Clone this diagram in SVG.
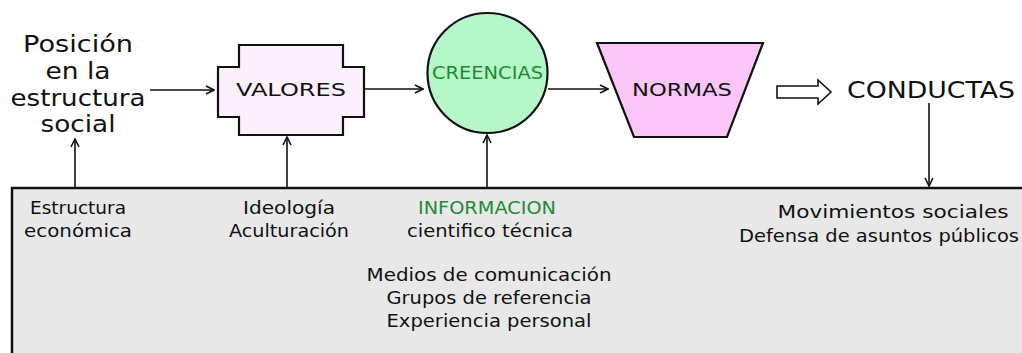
<svg xmlns="http://www.w3.org/2000/svg" width="1022" height="353" viewBox="0 0 1022 353">
<defs>
<marker id="ah" markerWidth="10" markerHeight="10" refX="9" refY="5" orient="auto" markerUnits="userSpaceOnUse">
<path d="M1,1 L9,5 L1,9" fill="none" stroke="#111" stroke-width="1.6"/>
</marker>
</defs>
<style>
text{font-family:"DejaVu Sans","Liberation Sans",sans-serif;fill:#111;text-anchor:middle}
.big{font-size:23px}
.node{font-size:18px}
.small{font-size:17px}
.green{fill:#1f8a34}
.shape{stroke:#111;stroke-width:2.2}
.conn{stroke:#111;stroke-width:1.6;fill:none;marker-end:url(#ah)}
</style>
<g id="panel">
<rect x="12" y="188" width="1030" height="200" fill="#e8e8e8" stroke="#111" stroke-width="2.5"/>
</g>
<g id="posicion">
<text class="big" x="78" y="52" textLength="110" lengthAdjust="spacingAndGlyphs">Posición</text>
<text class="big" x="78" y="79" textLength="65" lengthAdjust="spacingAndGlyphs">en la</text>
<text class="big" x="78" y="106" textLength="135" lengthAdjust="spacingAndGlyphs">estructura</text>
<text class="big" x="78" y="132" textLength="75" lengthAdjust="spacingAndGlyphs">social</text>
</g>
<g id="valores">
<path class="shape" fill="#fcf0fa" d="M239,45 H343 V67 H364 V117 H343 V135 H239 V117 H218 V67 H239 Z"/>
<text class="node" x="291" y="96" textLength="110" lengthAdjust="spacingAndGlyphs">VALORES</text>
</g>
<g id="creencias">
<circle class="shape" cx="487.5" cy="73" r="60" fill="#b5f7c8"/>
<text class="node green" x="487.5" y="79" textLength="111" lengthAdjust="spacingAndGlyphs">CREENCIAS</text>
</g>
<g id="normas">
<path class="shape" fill="#f9c6f7" d="M597,43 H763 L727,137 H634 Z"/>
<text class="node" x="682" y="96" textLength="100" lengthAdjust="spacingAndGlyphs">NORMAS</text>
</g>
<g id="conductas">
<text class="big" x="931" y="98" textLength="168" lengthAdjust="spacingAndGlyphs">CONDUCTAS</text>
</g>
<g id="estructura-economica">
<text class="small" x="78" y="214" textLength="96" lengthAdjust="spacingAndGlyphs">Estructura</text>
<text class="small" x="78" y="237" textLength="108" lengthAdjust="spacingAndGlyphs">económica</text>
</g>
<g id="ideologia">
<text class="small" x="289" y="214" textLength="92" lengthAdjust="spacingAndGlyphs">Ideología</text>
<text class="small" x="289" y="237" textLength="120" lengthAdjust="spacingAndGlyphs">Aculturación</text>
</g>
<g id="informacion">
<text class="small green" x="487" y="214" textLength="138" lengthAdjust="spacingAndGlyphs">INFORMACION</text>
<text class="small" x="490" y="237" textLength="166" lengthAdjust="spacingAndGlyphs">cientifico técnica</text>
<text class="small" x="489" y="281" textLength="245" lengthAdjust="spacingAndGlyphs">Medios de comunicación</text>
<text class="small" x="489" y="304" textLength="205" lengthAdjust="spacingAndGlyphs">Grupos de referencia</text>
<text class="small" x="489" y="327" textLength="205" lengthAdjust="spacingAndGlyphs">Experiencia personal</text>
</g>
<g id="movimientos">
<text class="small" x="893" y="218" textLength="231" lengthAdjust="spacingAndGlyphs">Movimientos sociales</text>
<text class="small" x="879" y="242" textLength="280" lengthAdjust="spacingAndGlyphs">Defensa de asuntos públicos</text>
</g>
<g id="connectors">
<line class="conn" x1="150" y1="90" x2="214" y2="90"/>
<line class="conn" x1="75" y1="188" x2="75" y2="139"/>
<line class="conn" x1="287" y1="188" x2="287" y2="137"/>
<line class="conn" x1="364" y1="89" x2="423" y2="89"/>
<line class="conn" x1="548" y1="89" x2="608" y2="89"/>
<line class="conn" x1="487" y1="188" x2="487" y2="135"/>
<line class="conn" x1="929" y1="103" x2="929" y2="186"/>
<path d="M777,86 H818 V80 L831,92 L818,104 V98 H777 Z" fill="#fff" stroke="#111" stroke-width="1.6"/>
</g>
</svg>
